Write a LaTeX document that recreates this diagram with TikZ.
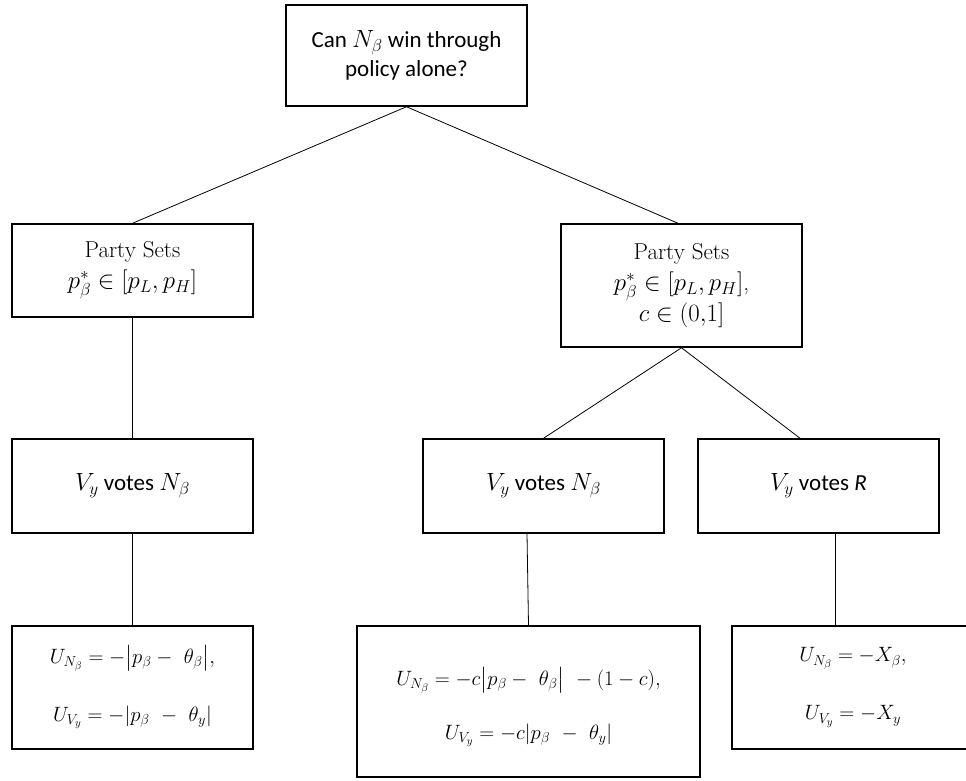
\documentclass[tikz,border=0pt]{standalone}
\usepackage{amsmath}
\usepackage{fontspec}
\newfontfamily\calib{Carlito}
\begin{document}
\begin{tikzpicture}[x=1pt,y=-1pt,
  box/.style={draw, line width=1.5pt, inner sep=0pt, align=center, minimum width=241pt},
  conn/.style={draw, line width=0.8pt},
  cfont/.style={font=\calib\fontsize{23}{32}\selectfont},
  rfont/.style={font=\fontsize{23}{31}\selectfont},
  mfont/.style={font=\fontsize{22.5}{30}\selectfont}]
\clip (0,0) rectangle (966,780);
\node[box, cfont, minimum height=101pt] (top) at (406.5,55.5) {\raisebox{-3pt}{Can $N_\beta$ win through}\\policy alone?};
\node[box, rfont, minimum height=93pt] (ps1) at (132.5,270.5) {Party Sets\\$p_\beta^{*}\in[p_L,p_H]$};
\node[box, rfont, minimum height=123pt] (ps2) at (681.5,285.5) {Party Sets\\$p_\beta^{*}\in[p_L,p_H]$,\\$c\in(0{,}1]$};
\node[box, cfont, minimum height=94pt] (vy1) at (132.5,486) {$V_y$ votes $N_\beta$};
\node[box, cfont, minimum height=94pt] (vy2) at (543.5,486) {$V_y$ votes $N_\beta$};
\node[box, cfont, minimum height=94pt] (vr) at (818.5,486) {$V_y$ votes {\itshape R}};
\node[box, mfont, minimum height=123pt] (u1) at (132.5,687.5) {$U_{N_\beta}=-\bigl|p_\beta-\ \theta_\beta\bigr|,$\\[28pt]$U_{V_y}=-|p_\beta\ -\ \theta_y|$};
\node[box, minimum width=343pt, minimum height=151pt,
  label={[mfont, align=center, yshift=-6pt]center:{$U_{N_\beta}=-c\bigl|p_\beta-\ \theta_\beta\bigr|\ -(1-c),$\\[24pt]$U_{V_y}=-c|p_\beta\ -\ \theta_y|$}}] (u2) at (528.5,701.5) {};
\node[box, mfont, minimum width=242pt, minimum height=123pt] (u3) at (853,687.5) {$U_{N_\beta}=-X_\beta,$\\[28pt]$U_{V_y}=-X_y$};
\draw[conn] (top.south) -- (ps1.north);
\draw[conn] (top.south) -- ([xshift=-3.5pt]ps2.north);
\draw[conn] (ps1.south) -- (vy1.north);
\draw[conn] (vy1.south) -- (u1.north);
\draw[conn] (ps2.south) -- (vy2.north);
\draw[conn] (ps2.south) -- ([xshift=-18.5pt]vr.north);
\draw[conn] ([xshift=-16.5pt]vy2.south) -- (u2.north);
\draw[conn] ([xshift=16.5pt]vr.south) -- ([xshift=-18pt]u3.north);
\end{tikzpicture}
\end{document}
